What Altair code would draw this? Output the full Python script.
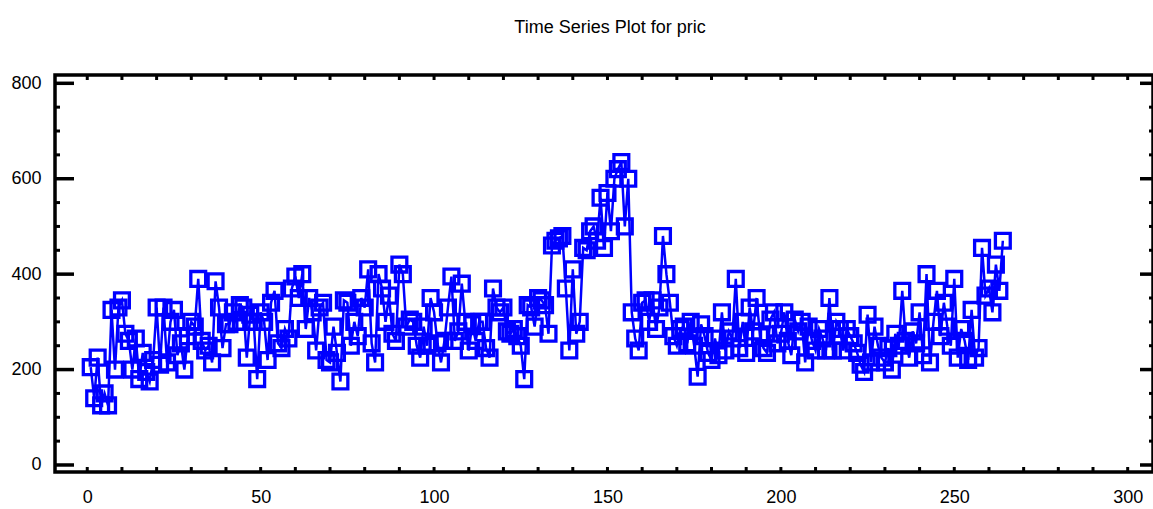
import altair as alt
import pandas as pd

pric = [
    205, 140, 225, 125, 150, 125, 325, 200, 330, 345,
    275, 260, 200, 265, 180, 235, 195, 175, 220, 330,
    210, 330, 215, 300, 325, 230, 255, 200, 270, 300,
    290, 390, 260, 240, 250, 215, 385, 330, 245, 295,
    295, 320, 300, 335, 330, 225, 315, 300, 180, 320,
    300, 220, 340, 365, 255, 245, 285, 265, 370, 395,
    350, 400, 285, 350, 320, 240, 330, 340, 220, 215,
    290, 235, 175, 345, 340, 250, 300, 270, 350, 330,
    410, 255, 215, 400, 370, 300, 355, 275, 260, 420,
    400, 290, 305, 300, 250, 225, 290, 250, 350, 320,
    255, 215, 260, 330, 395, 260, 280, 380, 300, 240,
    295, 260, 300, 300, 245, 225, 370, 330, 320, 330,
    280, 275, 285, 270, 250, 180, 335, 330, 290, 350,
    345, 335, 275, 460, 470, 475, 480, 370, 240, 410,
    275, 300, 455, 450, 490, 500, 470, 560, 455, 570,
    490, 600, 620, 635, 500, 600, 320, 265, 240, 340,
    345, 300, 345, 285, 330, 480, 400, 340, 270, 250,
    285, 290, 255, 300, 250, 185, 295, 270, 235, 220,
    265, 230, 320, 240, 280, 265, 390, 245, 300, 235,
    330, 280, 350, 270, 245, 235, 305, 320, 255, 275,
    320, 260, 230, 305, 280, 300, 215, 290, 260, 240,
    285, 265, 240, 350, 240, 300, 285, 240, 285, 270,
    255, 235, 210, 195, 315, 215, 290, 250, 225, 215,
    245, 200, 275, 250, 365, 260, 225, 280, 255, 320,
    230, 400, 215, 300, 365, 270, 340, 290, 250, 390,
    225, 285, 260, 220, 325, 225, 245, 455, 355, 370,
    320, 420, 365, 470,
]
index = list(range(1, len(pric) + 1))

y_major = [0, 200, 400, 600, 800]
y_minor = [50, 100, 150, 250, 300, 350, 450, 500, 550, 650, 700, 750]
x_minor = list(range(0, 310, 10))
x_labels = [0, 50, 100, 150, 200, 250, 300]

W, H = 1098, 397
FONT = "Liberation Sans"
BLUE = "#0000ff"

df = pd.DataFrame({"t": index, "pric": pric})
xs = alt.Scale(domain=[-9.3, 307.3], nice=False, zero=False)
ys = alt.Scale(domain=[-14.7, 817.4], nice=False, zero=False)

base = alt.Chart(df)
line = base.mark_line(color=BLUE, strokeWidth=2.5).encode(
    x=alt.X("t:Q", scale=xs,
            axis=alt.Axis(values=x_labels, ticks=False, domain=False, grid=False,
                          labelPadding=16, labelFontSize=18, labelFont=FONT,
                          labelColor="black", title=None, format="d")),
    y=alt.Y("pric:Q", scale=ys,
            axis=alt.Axis(values=y_major, ticks=False, domain=False, grid=False,
                          labelPadding=14, labelFontSize=18, labelFont=FONT,
                          labelColor="black", title=None, format="d")),
)
pts = base.mark_point(shape="square", filled=False, color=BLUE, size=220,
                      strokeWidth=3.3, opacity=1).encode(
    x=alt.X("t:Q", scale=xs), y=alt.Y("pric:Q", scale=ys))

ymaj = pd.DataFrame({"v": y_major})
ymin = pd.DataFrame({"v": y_minor})
xmin = pd.DataFrame({"v": x_minor})

def yrule(d, x0, x1, w):
    return alt.Chart(d).mark_rule(color="black", strokeWidth=w).encode(
        y=alt.Y("v:Q", scale=ys), x=alt.value(x0), x2=alt.value(x1))

def xrule(d, y0, y1):
    return alt.Chart(d).mark_rule(color="black", strokeWidth=3).encode(
        x=alt.X("v:Q", scale=xs), y=alt.value(y0), y2=alt.value(y1))

ticks = [
    yrule(ymaj, 0, 19, 3.5), yrule(ymin, 0, 5, 3),
    yrule(ymaj, W - 13, W, 3.5), yrule(ymin, W - 4, W, 3),
    xrule(xmin, H - 5, H), xrule(xmin, 0, 5),
]

chart = alt.layer(line, pts, *ticks).properties(
    width=W, height=H,
    autosize=alt.AutoSizeParams(type="none"),
    padding={"left": 55, "top": 75, "right": 0, "bottom": 37},
    title=alt.TitleParams("Time Series Plot for pric", font=FONT, fontSize=18,
                          fontWeight="normal", color="black", anchor="middle",
                          baseline="alphabetic", offset=23, dx=6),
).configure_view(stroke="black", strokeWidth=3.5)

chart.save("out.html", embed_options={"renderer": "svg", "actions": False})
